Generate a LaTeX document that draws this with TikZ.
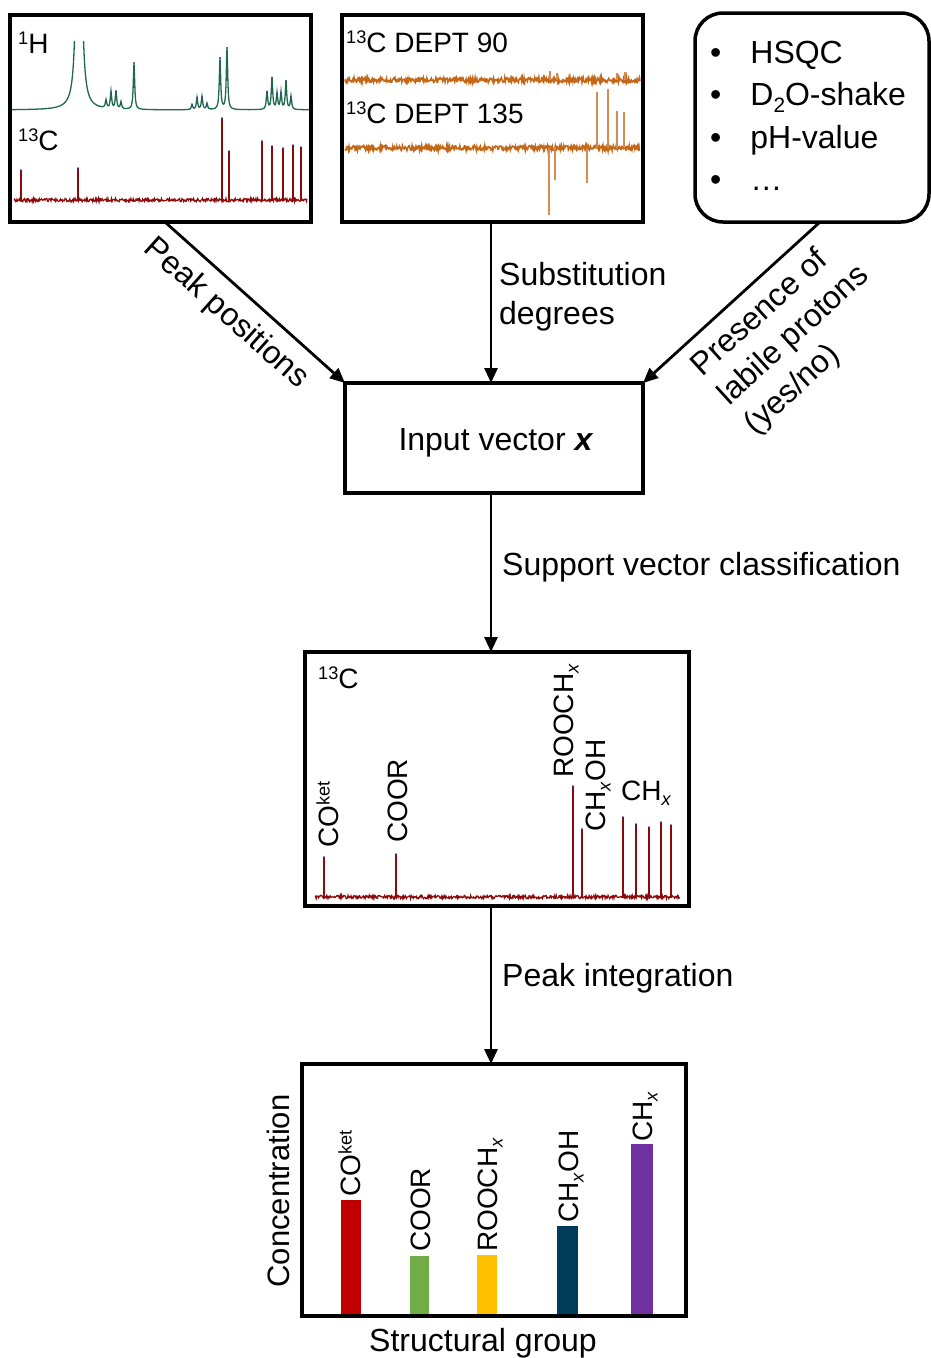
\documentclass[tikz,border=0pt]{standalone}
\usepackage{fontspec}
\setmainfont{Liberation Sans}
\usepackage{graphicx}
\usetikzlibrary{arrows.meta,calc}
\definecolor{hgreen}{RGB}{30,105,75}
\definecolor{cred}{RGB}{140,10,10}
\definecolor{dorange}{RGB}{196,104,24}
\definecolor{dorangel}{RGB}{214,140,80}
\definecolor{pdot}{RGB}{50,50,210}
\definecolor{barred}{RGB}{192,0,0}
\definecolor{bargreen}{RGB}{112,173,71}
\definecolor{baryellow}{RGB}{255,192,0}
\definecolor{barblue}{RGB}{3,60,90}
\definecolor{barpurple}{RGB}{112,48,160}
\newcommand\up[1]{\raisebox{0.3em}{\scalebox{0.65}{#1}}}
\newcommand\dn[1]{\raisebox{-0.2em}{\scalebox{0.65}{#1}}}
\begin{document}
\begin{tikzpicture}[x=1pt,y=-1pt,
  box/.style={draw, line width=3.5pt, inner sep=0pt, outer sep=0pt},
  arr/.style={line width=2.8pt, -{Triangle[length=15pt,width=13pt]}},
  lab/.style={font=\fontsize{28}{33}\selectfont, inner sep=0pt},
  main/.style={font=\fontsize{32}{39}\selectfont, inner sep=0pt},
  declare function={
    lor(\xv,\cv,\hv)=\hv/(1+(min(abs(\xv-\cv),100)/0.8)^2);
    big(\xv)=1500/(1+(min(abs(\xv-79),100))^2);
    hspec(\xv)=big(\xv)+lor(\xv,106,8)+lor(\xv,111,17)+lor(\xv,116,18)+lor(\xv,121,7)
      +lor(\xv,134,47)+lor(\xv,192,5)+lor(\xv,197,12)+lor(\xv,202,13)+lor(\xv,207,6)
      +lor(\xv,220,52)+lor(\xv,227,62)+lor(\xv,267,18)+lor(\xv,272,32)+lor(\xv,277,16)
      +lor(\xv,281,17)+lor(\xv,286,29)+lor(\xv,291,13);
  }
]
\useasboundingbox (0,0) rectangle (931,1358);
\pgfmathsetseed{7}

% ---------- box 1 : 1H and 13C ----------
\begin{scope}
\clip (12,41) rectangle (315,125);
\draw[hgreen, line width=1.3pt] plot[domain=12:313, samples=603] (\x, {110-hspec(\x)});
\end{scope}
\foreach \px/\py in {106/102,111/93,116/92,121/103,134/63,192/105,197/98,202/97,207/104,220/58,227/48,267/92,272/78,277/94,281/93,286/81,291/97}
  \fill[pdot] (\px,\py) circle (0.8);
\draw[cred, line width=1.2pt] plot[domain=14:307, samples=500] (\x, {200+1.7*rand});
\foreach \px/\py in {21/170,78/168,222/118,229/151,262/141,272/146,283/148,293/145,301/147}{
  \draw[cred, line width=1.4pt] (\px,201) -- (\px,\py);
  \fill[pdot] (\px,\py) circle (0.8);
}
\node[lab, anchor=base west] (h1) at (18,53) {\up{1}H};
\node[lab, anchor=base west] (c1) at (18,150) {\up{13}C};
\node[box, minimum width=301pt, minimum height=207pt] (b1) at (160.5,118.5) {};

% ---------- box 2 : DEPT ----------
\draw[dorange, line width=1.6pt] plot[domain=345:640, samples=520] (\x, {80+2.4*rand});
\draw[dorange, line width=1.6pt] plot[domain=345:640, samples=520] (\x, {148+2.4*rand});
\foreach \px/\py in {550/71,557/73,617/73,625/72}
  \draw[dorangel, line width=1.2pt] (\px,80) -- (\px,\py);
\foreach \px/\py in {597/92,608/89,617/111,624/112,549/215,555/180,587/183}
  \draw[dorangel, line width=1.2pt] (\px,148) -- (\px,\py);
\node[lab, anchor=base west] (d90) at (346,52) {\up{13}C DEPT 90};
\node[lab, anchor=base west] (d135) at (346,123) {\up{13}C DEPT 135};
\node[box, minimum width=301pt, minimum height=207pt] (b2) at (492.5,118.5) {};

% ---------- box 3 : other ----------
\node[box, rounded corners=28pt, minimum width=234pt, minimum height=209pt] (b3) at (812,117.5) {};
\node[main, anchor=north west, font=\fontsize{32}{42.5}\selectfont] (lst) at (710,33.25)
  {\begin{tabular}{@{}l@{\hspace{29pt}}l@{}}
   •&HSQC\\
   •&D\dn{2}O-shake\\
   •&pH-value\\
   •&…
   \end{tabular}};

% ---------- input vector ----------
\node[box, minimum width=298pt, minimum height=110pt] (inp) at (494,438) {};
\node[main] (inpt) at (496,443) {Input vector \textbf{\textit{x}}};

\draw[arr] ([xshift=4.5pt]b1.south) -- (inp.north west);
\draw[arr] ([xshift=-1.5pt]b2.south) -- ([xshift=-1.5pt]b2.south |- inp.north);
\draw[arr] ([xshift=8pt]b3.south) -- (inp.north east);

\node[main, rotate=-41.8] (lpp) at (226,314) {Peak positions};
\node[main, anchor=north west, align=left] (lsub) at (499,262) {Substitution\\degrees};
\node[main, rotate=42.3, align=left] (lpr) at (794,336) {Presence of\\labile protons\\(yes/no)};

% ---------- 13C classified ----------
\draw[cred, line width=1.2pt] plot[domain=315:680, samples=620] (\x, {897+1.7*rand});
\foreach \px/\py in {324/857,396/854,573/786,582/829,623/817,636/824,649/827,661/822,671/825}{
  \draw[cred, line width=1.4pt] (\px,898) -- (\px,\py);
  \fill[pdot] (\px,\py) circle (0.8);
}
\node[lab, anchor=base west] (c2) at (318,688) {\up{13}C};
\node[lab, rotate=90, anchor=base west] (k1) at (338,848) {CO\up{ket}};
\node[lab, rotate=90, anchor=base west] (k2) at (407,843) {COOR};
\node[lab, rotate=90, anchor=base west] (k3) at (573,778) {ROOCH\dn{\textit{x}}};
\node[lab, rotate=90, anchor=base west] (k4) at (605,832) {CH\dn{\textit{x}}OH};
\node[lab, anchor=base west] (k5) at (621,800) {CH\dn{\textit{x}}};
\node[box, minimum width=384pt, minimum height=254pt] (cb) at (497,779) {};

\draw[arr] ([xshift=-3pt]inp.south) -- ([xshift=-3pt]inp.south |- cb.north);
\node[main, anchor=base west] (lsvc) at (502,575) {Support vector classification};

% ---------- bar chart ----------
\fill[barred] (341,1200) rectangle (361,1316);
\fill[bargreen] (410,1256) rectangle (429,1316);
\fill[baryellow] (477,1255) rectangle (497,1316);
\fill[barblue] (557,1226) rectangle (578,1316);
\fill[barpurple] (631,1144) rectangle (653,1316);
\node[lab, rotate=90, anchor=base west] (g1) at (360,1197) {CO\up{ket}};
\node[lab, rotate=90, anchor=base west] (g2) at (430,1252) {COOR};
\node[lab, rotate=90, anchor=base west] (g3) at (497,1252) {ROOCH\dn{\textit{x}}};
\node[lab, rotate=90, anchor=base west] (g4) at (578,1223) {CH\dn{\textit{x}}OH};
\node[lab, rotate=90, anchor=base west] (g5) at (652,1142) {CH\dn{\textit{x}}};
\node[box, minimum width=384pt, minimum height=252pt] (bb) at (494,1190) {};
\node[main, font=\fontsize{31}{37}\selectfont, rotate=90, anchor=base] (lconc) at (289,1191) {Concentration};
\node[main, anchor=base] (lsg) at (483,1351) {Structural group};

\draw[arr] ([xshift=-6pt]cb.south) -- ([xshift=-6pt]cb.south |- bb.north);
\node[main, anchor=base west] (lpi) at (502,986) {Peak integration};
\end{tikzpicture}
\end{document}
